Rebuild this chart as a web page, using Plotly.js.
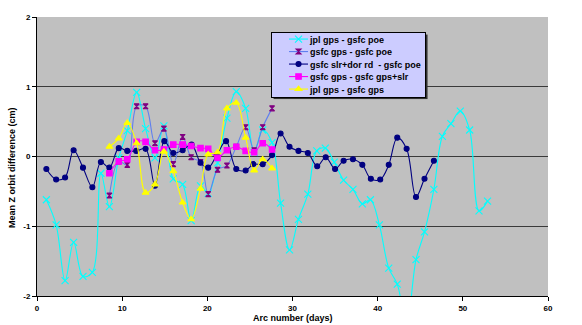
<!DOCTYPE html>
<html>
<head>
<meta charset="utf-8">
<script src="https://cdn.plot.ly/plotly-3.0.1.min.js"></script>
<style>html,body{margin:0;padding:0;background:#fff;}#chart{width:582px;height:325px;}</style>
</head>
<body>
<div id="chart"></div>
<script>
// ---- data ----
const seriesNames = [
  "jpl gps - gsfc poe",
  "gsfc gps - gsfc poe",
  "gsfc slr+dor rd\u00a0 - gsfc poe",
  "gsfc gps - gsfc gps+slr",
  "jpl gps - gsfc gps"
];

const xCyan = [1.1,2.25,3.3,4.3,5.4,6.5,7.5,8.5,9.6,10.6,
  11.7,12.75,13.85,14.9,16.0,17.1,18.1,19.2,20.1,21.2,
  22.3,23.4,24.5,25.5,26.5,27.6,28.6,29.65,30.7,31.8,
  32.85,33.85,34.9,36.0,37.1,38.2,39.15,40.2,41.3,42.3,
  43.4,44.5,45.5,46.6,47.6,48.6,49.7,50.8,51.9,52.9];
const jplGpsPoe = [-0.62,-0.98,-1.78,-1.23,-1.72,-1.66,-0.24,-0.72,-0.02,0.37,
  0.92,0.40,-0.02,0.44,-0.32,-0.40,-0.92,-0.42,-0.53,-0.09,
  0.55,0.93,0.69,0.06,0.38,0.20,-0.67,-1.34,-0.90,-0.54,
  0.08,0.12,-0.08,-0.34,-0.47,-0.68,-0.62,-0.98,-1.60,-1.83,
  -2.4,-1.48,-1.08,-0.47,0.29,0.47,0.65,0.38,-0.78,-0.64];

const xShort = [8.5,9.6,10.6,11.7,12.75,13.85,14.9,16.0,17.1,18.1,
  19.2,20.1,21.2,22.3,23.4,24.5,25.5,26.5,27.6];
const gsfcGpsPoe = [-0.56,-0.07,-0.12,0.72,0.72,0.19,0.40,-0.11,0.28,-0.01,
  -0.08,-0.54,-0.19,-0.13,0.14,0.42,0.09,0.42,0.69];
const gsfcGpsGpsSlr = [-0.24,-0.07,-0.04,0.21,0.21,0.09,0.10,0.17,0.17,0.15,
  0.12,0.11,-0.02,0.09,0.14,0.08,0.06,0.19,0.10];
const jplGpsGsfcGps = [0.14,0.26,0.48,0.19,-0.52,-0.40,0.07,-0.21,-0.66,-0.90,
  -0.46,0.03,0.06,0.69,0.77,0.27,-0.20,-0.04,-0.17];

const xNavy = [1.1,2.25,3.3,4.3,5.4,6.5,7.5,8.5,9.6,10.6,
  11.65,12.75,13.85,14.95,16.0,17.1,18.15,19.2,20.1,21.1,
  22.2,23.4,24.5,25.4,26.5,27.6,28.6,29.65,30.7,31.8,
  32.9,33.9,35.0,36.0,37.1,38.2,39.2,40.3,41.3,42.3,
  43.4,44.5,45.5,46.6];
const gsfcSlrDorPoe = [-0.18,-0.33,-0.30,0.09,-0.16,-0.44,-0.08,-0.16,0.12,0.08,
  0.08,0.11,-0.42,0.22,0.05,0.09,0.17,-0.09,-0.16,0.02,
  0.22,-0.18,-0.20,-0.11,-0.11,0.02,0.33,0.14,0.08,0.05,
  -0.14,-0.01,-0.18,-0.06,-0.04,-0.12,-0.32,-0.33,-0.12,0.27,
  0.11,-0.58,-0.32,-0.06];

const xTicks = [0,10,20,30,40,50,60];
const yTicks = [-2,-1,0,1,2];
const yTitle = "Mean Z orbit difference (cm)";
const xTitle = "Arc number (days)";

// ---- chart ----
const FONT = "Liberation Sans, Arial, sans-serif";
function tr(x, y, name, lineColor, sym, mColor, mSize) {
  return {
    type: "scatter", mode: "lines+markers", x: x, y: y, name: name,
    line: {color: lineColor, width: 1.1, shape: "spline", smoothing: 1},
    marker: {symbol: sym, color: mColor, size: mSize,
             line: {color: mColor, width: 1.1}},
    cliponaxis: true
  };
}
const traces = [
  tr(xCyan, jplGpsPoe, seriesNames[0], "#00ffff", "x-thin", "#00ffff", 7),
  tr(xShort, gsfcGpsPoe, seriesNames[1], "#5f7fef", "hourglass", "#800080", 5),
  tr(xNavy, gsfcSlrDorPoe, seriesNames[2], "#000080", "circle", "#000080", 5),
  tr(xShort, gsfcGpsGpsSlr, seriesNames[3], "#ff00ff", "square", "#ff00ff", 5.5),
  tr(xShort, jplGpsGsfcGps, seriesNames[4], "#ffff00", "triangle-up", "#ffff00", 6)
];

const layout = {
  width: 582, height: 325,
  margin: {l: 37, r: 34, t: 17, b: 29, pad: 0},
  paper_bgcolor: "#ffffff",
  plot_bgcolor: "#c0c0c0",
  showlegend: true,
  legend: {
    x: 0.458, y: 0.946, xanchor: "left", yanchor: "top",
    bgcolor: "#ccccff", bordercolor: "#000000", borderwidth: 1,
    font: {family: FONT, size: 9, color: "#000", weight: "bold"},
    itemwidth: 30, tracegroupgap: 0
  },
  xaxis: {
    range: [0, 60], tickvals: xTicks, ticktext: xTicks.map(String),
    showgrid: false, zeroline: false,
    showline: true, linecolor: "#000", linewidth: 1,
    ticks: "outside", ticklen: 4, tickcolor: "#000", tickwidth: 1,
    tickfont: {family: FONT, size: 8, color: "#000", weight: "bold"},
    fixedrange: true
  },
  yaxis: {
    range: [-2, 2], tickvals: yTicks, ticktext: yTicks.map(String),
    showgrid: true, gridcolor: "#3a3a3a", gridwidth: 1,
    zeroline: false,
    showline: true, linecolor: "#000", linewidth: 1,
    ticks: "outside", ticklen: 4, tickcolor: "#000", tickwidth: 1,
    tickfont: {family: FONT, size: 8, color: "#000", weight: "bold"},
    fixedrange: true
  },
  annotations: [{
    text: yTitle, textangle: -90, showarrow: false,
    xref: "paper", yref: "paper", x: -0.049, y: 0.462,
    xanchor: "center", yanchor: "middle",
    font: {family: FONT, size: 9, color: "#000", weight: "bold"}
  }, {
    // x-axis title, kept at the very bottom edge but fully inside the picture
    text: xTitle, showarrow: false,
    xref: "paper", yref: "paper", x: 0.5, y: -0.079,
    xanchor: "center", yanchor: "middle",
    font: {family: FONT, size: 9, color: "#000", weight: "bold"}
  }]
};

Plotly.newPlot("chart", traces, layout, {displayModeBar: false, staticPlot: true}).then(function (gd) {
  // compact the legend rows like the original Excel legend box
  const leg = gd.querySelector(".legend");
  if (!leg) return;
  const rowGap = 12.5, firstRow = 7;
  leg.querySelectorAll(".traces").forEach(function (g, i) {
    const m = /translate\(\s*([-\d.]+)[ ,]+([-\d.]+)\s*\)/.exec(g.getAttribute("transform") || "");
    const tx = m ? parseFloat(m[1]) : 0;
    g.setAttribute("transform", "translate(" + tx + "," + (firstRow + i * rowGap) + ")");
    g.querySelectorAll(".legendlines path").forEach(function (p) { p.setAttribute("d", "M17,0h19"); });
    g.querySelectorAll(".legendpoints path").forEach(function (p) { p.setAttribute("transform", "translate(26.5,0)"); });
    g.querySelectorAll("text.legendtext").forEach(function (t) { t.setAttribute("x", "38"); });
  });
  const bg = leg.querySelector("rect.bg");
  const w = 154, h = 64.5;
  if (bg) {
    bg.setAttribute("width", w);
    bg.setAttribute("height", h);
    const sh = document.createElementNS("http://www.w3.org/2000/svg", "rect");
    sh.setAttribute("x", (parseFloat(bg.getAttribute("x")) || 0) + 2);
    sh.setAttribute("y", (parseFloat(bg.getAttribute("y")) || 0) + 2);
    sh.setAttribute("width", w);
    sh.setAttribute("height", h);
    sh.setAttribute("fill", "#303030");
    leg.insertBefore(sh, bg);
  }
});
</script>
</body>
</html>
